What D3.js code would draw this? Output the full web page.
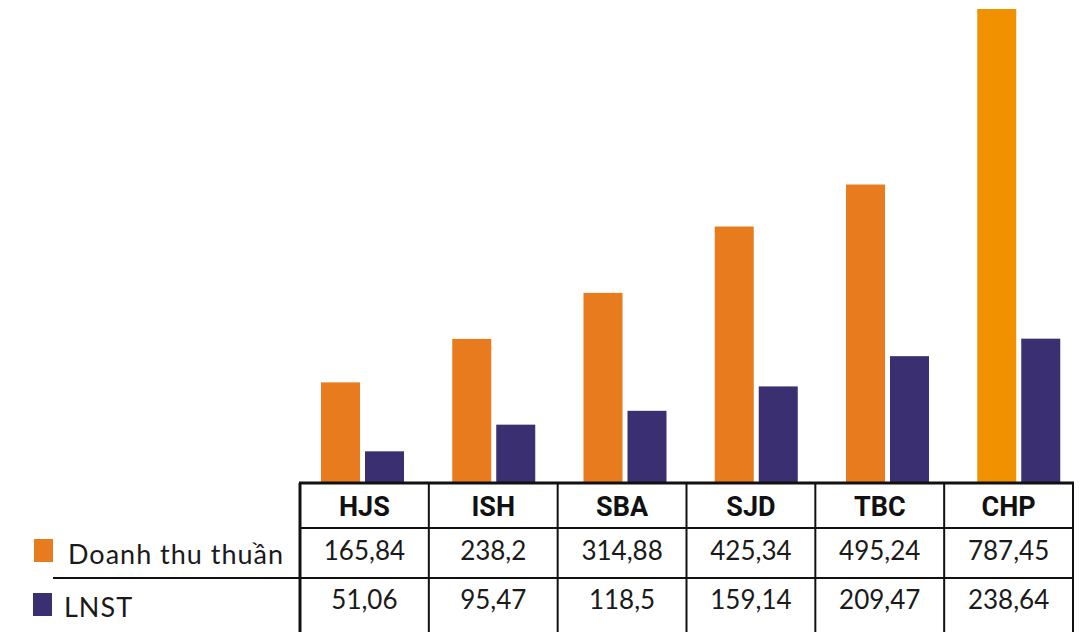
<!DOCTYPE html>
<html>
<head>
<meta charset="utf-8">
<script src="https://cdn.jsdelivr.net/npm/d3@7"></script>
<style>
  body { margin: 0; background: #fff; }
  svg { display: block; }
  .hdr { font-family: Roboto, sans-serif; font-weight: 700; font-size: 27px; fill: #111; }
  .val { font-family: Lato, sans-serif; font-size: 26px; fill: #1a1a1a; }
  .leg { font-family: Lato, sans-serif; font-size: 27px; fill: #1a1a1a; letter-spacing: 1px; }
</style>
</head>
<body>
<div id="chart"></div>
<script>
const companies = ['HJS', 'ISH', 'SBA', 'SJD', 'TBC', 'CHP'];
const seriesNames = ['Doanh thu thuần', 'LNST'];
const revenue = [165.84, 238.2, 314.88, 425.34, 495.24, 787.45];
const profit = [51.06, 95.47, 118.5, 159.14, 209.47, 238.64];
const valueLabels = [
  ['165,84', '238,2', '314,88', '425,34', '495,24', '787,45'],
  ['51,06', '95,47', '118,5', '159,14', '209,47', '238,64'],
];

const width = 1088;
const height = 632;

const table = { left: 300, right: 1073, top: 483, headBottom: 528, row1Bottom: 578, bottom: 640 };

const svg = d3.select('#chart')
  .append('svg')
  .attr('width', width)
  .attr('height', height);

// table columns
const xScale = d3.scaleBand()
  .domain(companies)
  .range([table.left, table.right]);

// bar groups are spaced a little wider than the table columns
const xBar = d3.scaleBand()
  .domain(companies)
  .range([table.left, 1087.5]);

const inner = d3.scaleBand()
  .domain(seriesNames)
  .range([21, 104])
  .paddingInner(5 / 44);

const yScale = d3.scaleLinear()
  .domain([0, 787.45])
  .range([table.top - 1, 9]);

const colors = { 'Doanh thu thuần': '#E87B1E', 'LNST': '#3A2F70' };
const barColor = (s, c) => (s === 'Doanh thu thuần' && c === 'CHP') ? '#F29100' : colors[s];

const rows = companies.map((c, i) => ({ company: c, values: [revenue[i], profit[i]] }));

// bars
const groups = svg.append('g').attr('class', 'bars')
  .selectAll('g')
  .data(rows)
  .join('g')
  .attr('transform', (d) => `translate(${xBar(d.company)},0)`);

groups.selectAll('rect')
  .data((d) => d.values.map((v, j) => ({ company: d.company, series: seriesNames[j], value: v })))
  .join('rect')
  .attr('x', (d) => inner(d.series))
  .attr('width', inner.bandwidth())
  .attr('y', (d) => yScale(d.value))
  .attr('height', (d) => yScale(0) - yScale(d.value))
  .attr('fill', (d) => barColor(d.series, d.company));

// table lines
const grid = svg.append('g').attr('stroke', '#111');

grid.append('line')
  .attr('x1', table.left - 1).attr('x2', table.right + 1)
  .attr('y1', table.top).attr('y2', table.top)
  .attr('stroke-width', 3);

grid.append('line')
  .attr('x1', table.left).attr('x2', table.right)
  .attr('y1', table.headBottom).attr('y2', table.headBottom)
  .attr('stroke-width', 2);

grid.append('line')
  .attr('x1', 53).attr('x2', table.right)
  .attr('y1', table.row1Bottom).attr('y2', table.row1Bottom)
  .attr('stroke-width', 2);

const vx = companies.map((c) => xScale(c)).concat([table.right]);
grid.selectAll('.v')
  .data(vx)
  .join('line')
  .attr('class', 'v')
  .attr('x1', (d) => d).attr('x2', (d) => d)
  .attr('y1', table.top).attr('y2', table.bottom)
  .attr('stroke-width', (d, i) => (i === 0 ? 3 : 2));

// header labels
svg.append('g')
  .selectAll('text')
  .data(companies)
  .join('text')
  .attr('class', 'hdr')
  .attr('x', (d) => xScale(d) + xScale.bandwidth() / 2)
  .attr('y', 516)
  .attr('text-anchor', 'middle')
  .text((d) => d);

// value rows
const rowY = [560, 609];
valueLabels.forEach((labels, r) => {
  svg.append('g')
    .selectAll('text')
    .data(labels)
    .join('text')
    .attr('class', 'val')
    .attr('x', (d, i) => xScale(companies[i]) + xScale.bandwidth() / 2)
    .attr('y', rowY[r])
    .attr('text-anchor', 'middle')
    .text((d) => d);
});

// legend
const legend = svg.append('g')
  .selectAll('g')
  .data(seriesNames)
  .join('g')
  .attr('transform', (d, i) => `translate(${i === 0 ? 34 : 33},${i === 0 ? 539 : 593})`);

legend.append('rect')
  .attr('width', 19)
  .attr('height', 23)
  .attr('fill', (d) => colors[d]);

legend.append('text')
  .attr('class', 'leg')
  .attr('x', (d, i) => (i === 0 ? 34 : 31))
  .attr('y', (d, i) => (i === 0 ? 25 : 24))
  .text((d) => d);
</script>
</body>
</html>
